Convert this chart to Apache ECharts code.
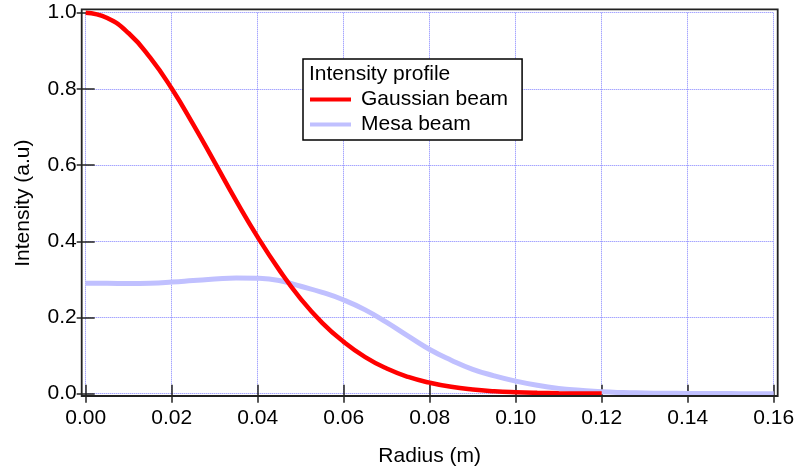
<!DOCTYPE html>
<html>
<head>
<meta charset="utf-8">
<script src="https://cdn.jsdelivr.net/npm/echarts@6/dist/echarts.min.js"></script>
<style>
html,body{margin:0;padding:0;background:#fff;}
#chart{width:799px;height:472px;}
</style>
</head>
<body>
<div id="chart"></div>
<script>
// Radius samples (m)
const radius = [0, 0.005, 0.01, 0.015, 0.02, 0.025, 0.03, 0.035, 0.04, 0.045, 0.05, 0.055,
  0.06, 0.065, 0.07, 0.075, 0.08, 0.085, 0.09, 0.095, 0.10, 0.105, 0.11, 0.115, 0.12,
  0.125, 0.13, 0.135, 0.14, 0.145, 0.15, 0.155, 0.16];
// Gaussian beam intensity, ends near 0.12
const gaussian = [1.0, 0.986, 0.946, 0.882, 0.801, 0.707, 0.607, 0.506, 0.411, 0.325, 0.249, 0.186,
  0.136, 0.096, 0.066, 0.044, 0.029, 0.018, 0.011, 0.0066, 0.0039, 0.0022, 0.0012, 0.0006, 0.0003];
// Mesa beam intensity
const mesa = [0.290, 0.290, 0.289, 0.290, 0.293, 0.297, 0.301, 0.304, 0.303, 0.297, 0.282, 0.266,
  0.246, 0.220, 0.187, 0.151, 0.116, 0.088, 0.064, 0.047, 0.033, 0.022, 0.014, 0.009, 0.005,
  0.003, 0.002, 0.001, 0.0008, 0.0004, 0.0002, 0.0001, 0];
const xTicks = [0, 0.02, 0.04, 0.06, 0.08, 0.10, 0.12, 0.14, 0.16];
const yTicks = [0, 0.2, 0.4, 0.6, 0.8, 1.0];
const seriesNames = ['Gaussian beam', 'Mesa beam'];
const legendTitle = 'Intensity profile';
const xName = 'Radius (m)';
const yName = 'Intensity (a.u)';

const FONT = '"Liberation Sans", Arial, Helvetica, sans-serif';
const FS = 21;
function gridLine() {
  return {show: true, lineStyle: {color: '#8080ff', width: 1, type: [1, 1]}};
}
function tick() {
  return {show: true, inside: true, length: 9, lineStyle: {color: '#222', width: 1.5}};
}

const chart = echarts.init(document.getElementById('chart'), null, {renderer: 'canvas'});
const gPairs = gaussian.map((v, i) => [radius[i], v]);
const mPairs = mesa.map((v, i) => [radius[i], v]);

chart.setOption({
  animation: false,
  backgroundColor: '#fff',
  textStyle: {fontFamily: FONT},
  title: {
    text: legendTitle, left: 309, top: 64, padding: 0,
    textStyle: {fontFamily: FONT, fontSize: FS, fontWeight: 'normal', color: '#000'}
  },
  legend: {
    orient: 'vertical', left: 303, top: 59,
    padding: [28, 14, 3, 7], itemGap: 0,
    itemWidth: 41, itemHeight: 4,
    borderColor: '#000', borderWidth: 1.5, backgroundColor: '#fff',
    textStyle: {fontFamily: FONT, fontSize: FS, color: '#000', lineHeight: 25, padding: [0, 0, 0, 5]},
    data: [
      {name: seriesNames[0], icon: 'rect', itemStyle: {color: '#ff0000'}},
      {name: seriesNames[1], icon: 'rect', itemStyle: {color: '#c0c0ff'}}
    ]
  },
  grid: [
    {left: 85.7, right: 25.3, top: 12.7, bottom: 78.3, show: false},
    {left: 81.7, right: 21.3, top: 9.3, bottom: 76, show: true, borderColor: '#222', borderWidth: 1.8, backgroundColor: 'transparent', z: 10}
  ],
  xAxis: [
    {
      type: 'value', gridIndex: 0, position: 'bottom', offset: 2.3,
      min: xTicks[0], max: xTicks[xTicks.length - 1], interval: xTicks[1] - xTicks[0],
      axisLine: {show: false}, axisTick: tick(), splitLine: gridLine(),
      axisLabel: {margin: 12, fontSize: FS, color: '#000', fontFamily: FONT, formatter: v => v.toFixed(2)},
      name: xName, nameLocation: 'middle', nameGap: 50,
      nameTextStyle: {fontSize: FS, color: '#000', fontFamily: FONT}
    },
    {
      type: 'value', gridIndex: 0, position: 'top', offset: 3.4,
      min: xTicks[0], max: xTicks[xTicks.length - 1], interval: xTicks[1] - xTicks[0],
      axisLine: {show: false}, axisTick: tick(), splitLine: {show: false}, axisLabel: {show: false}
    },
    {type: 'value', gridIndex: 1, show: false, min: 0, max: 1, splitLine: {show: false}}
  ],
  yAxis: [
    {
      type: 'value', gridIndex: 0, position: 'left', offset: 4,
      min: yTicks[0], max: yTicks[yTicks.length - 1], interval: yTicks[1] - yTicks[0],
      axisLine: {show: false}, axisTick: tick(), splitLine: gridLine(),
      axisLabel: {margin: 5, fontSize: FS, color: '#000', fontFamily: FONT, formatter: v => v.toFixed(1)},
      name: yName, nameLocation: 'middle', nameGap: 48, nameRotate: 90,
      nameTextStyle: {fontSize: FS, color: '#000', fontFamily: FONT}
    },
    {
      type: 'value', gridIndex: 0, position: 'right', offset: 4,
      min: yTicks[0], max: yTicks[yTicks.length - 1], interval: yTicks[1] - yTicks[0],
      axisLine: {show: false}, axisTick: tick(), splitLine: {show: false}, axisLabel: {show: false}
    },
    {type: 'value', gridIndex: 1, show: false, min: 0, max: 1, splitLine: {show: false}}
  ],
  series: [
    {
      name: seriesNames[1], type: 'line', xAxisIndex: 0, yAxisIndex: 0,
      data: mPairs, smooth: 0.5, showSymbol: false, symbol: 'none', clip: false, z: 2,
      lineStyle: {color: '#c0c0ff', width: 5}, itemStyle: {color: '#c0c0ff'}
    },
    {
      name: seriesNames[0], type: 'line', xAxisIndex: 0, yAxisIndex: 0,
      data: gPairs, smooth: 0.5, showSymbol: false, symbol: 'none', clip: false, z: 3,
      lineStyle: {color: '#ff0000', width: 4.5}, itemStyle: {color: '#ff0000'}
    }
  ]
});
</script>
</body>
</html>
